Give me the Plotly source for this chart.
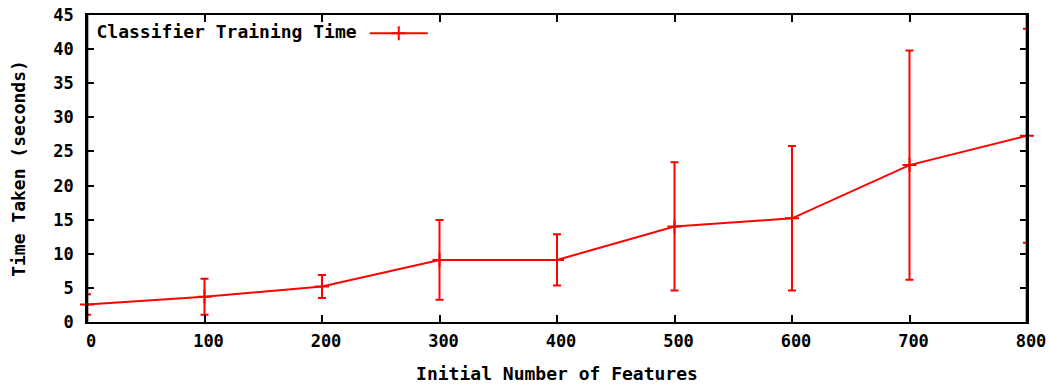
import plotly.graph_objects as go

features = [0, 100, 200, 300, 400, 500, 600, 700, 800]
train_time = [2.55, 3.7, 5.2, 9.1, 9.1, 14.0, 15.2, 23.0, 27.3]
train_err = [1.5, 2.65, 1.7, 5.85, 3.75, 9.4, 10.6, 16.8, 15.7]
x_ticks = [0, 100, 200, 300, 400, 500, 600, 700, 800]
y_ticks = [0, 5, 10, 15, 20, 25, 30, 35, 40, 45]

FONT = "DejaVu Sans Mono"
RED = "#ff0000"
FS = 18

fig = go.Figure()
fig.add_trace(go.Scatter(
    x=features, y=train_time, name=" ",
    mode="lines+markers",
    line=dict(color=RED, width=2),
    marker=dict(symbol="cross-thin", size=10, line=dict(color=RED, width=2), color=RED),
    error_y=dict(type="data", array=train_err, visible=True, color=RED, thickness=2, width=4),
    cliponaxis=False,
))

axis_common = dict(
    showline=True, linecolor="black", linewidth=1.5, mirror="ticks",
    ticks="inside", ticklen=7, tickwidth=1.5, tickcolor="black",
    showgrid=False, zeroline=False, automargin=False,
    tickfont=dict(family=FONT, size=17, color="black", weight="bold"),
)

# frame edges redrawn on top so the black border covers the error bars at x=0 / x=800
for xe in (0, 1):
    fig.add_shape(type="line", xref="paper", yref="paper", x0=xe, x1=xe, y0=0, y1=1,
                  line=dict(color="black", width=2.6), layer="above")

fig.update_layout(
    width=1050, height=384,
    margin=dict(l=87, r=23, t=15, b=62),
    paper_bgcolor="white", plot_bgcolor="white",
    showlegend=True,
    legend=dict(
        x=0.008, y=1.0, xanchor="left", yanchor="top",
        bgcolor="rgba(0,0,0,0)", borderwidth=0,
        itemwidth=58,
        title=dict(text="Classifier Training Time", side="left",
                   font=dict(family=FONT, size=FS, color="black", weight="bold")),
        font=dict(family=FONT, size=FS, color="black", weight="bold"),
    ),
    xaxis=dict(
        range=[0, 800], tickvals=x_ticks, ticktext=[str(v) for v in x_ticks],
        ticklabelshift=4, ticklabelstandoff=3,
        title=dict(text="Initial Number of Features", standoff=24,
                   font=dict(family=FONT, size=FS, color="black", weight="bold")),
        **axis_common,
    ),
    yaxis=dict(
        range=[0, 45], tickvals=y_ticks, ticktext=[str(v) for v in y_ticks],
        ticklabelstandoff=8,
        title=dict(text="Time Taken (seconds)", standoff=23,
                   font=dict(family=FONT, size=FS, color="black", weight="bold")),
        **axis_common,
    ),
)

fig.write_html("out.html")
